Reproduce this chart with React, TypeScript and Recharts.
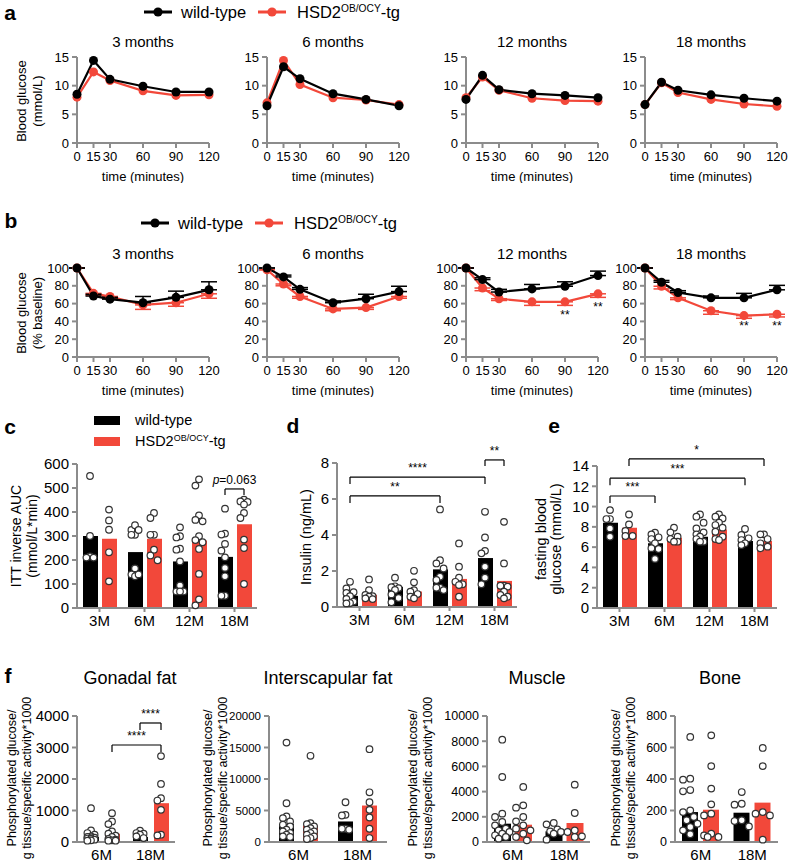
import React from 'react';
import {
  ComposedChart,
  LineChart,
  Line,
  Bar,
  Scatter,
  XAxis,
  YAxis,
  ErrorBar,
  ReferenceLine,
  ReferenceDot,
} from 'recharts';

const FONT = '"Liberation Sans", Arial, Helvetica, sans-serif';
const RED = '#f2483a';
const AXIS = '#8c8c8c';

// ---------- panel a / b : time courses ----------
const TIMES = [0, 15, 30, 60, 90, 120];
const AGE_TITLES = ['3 months', '6 months', '12 months', '18 months'];

const gttWildType = [
  [8.5, 14.4, 11.1, 9.9, 8.9, 8.9],
  [6.5, 13.3, 11.2, 8.6, 7.6, 6.5],
  [7.6, 11.8, 9.3, 8.6, 8.3, 7.9],
  [6.7, 10.6, 9.2, 8.4, 7.8, 7.3],
];
const gttTransgenic = [
  [8.0, 12.4, 10.9, 9.1, 8.3, 8.4],
  [7.0, 14.4, 10.2, 7.9, 7.5, 6.7],
  [7.9, 11.5, 9.2, 7.8, 7.4, 7.3],
  [6.7, 10.5, 8.8, 7.6, 6.8, 6.4],
];

const ittWildType = [
  [100, 68.5, 65, 61, 67, 75.5],
  [100, 90, 76, 61, 65.5, 73.5],
  [100, 87, 73, 76.5, 79.5, 91.5],
  [100, 84, 72.5, 66.5, 66.5, 75.5],
];
const ittWildTypeErr = [
  [0, 2, 2, 7, 7, 9],
  [0, 2, 2, 2, 5, 6],
  [0, 2, 3, 5, 5, 5],
  [0, 2, 2, 2, 5, 5],
];
const ittTransgenic = [
  [100, 71.5, 68, 58.5, 61, 71],
  [98, 82, 68, 54, 55.5, 68],
  [100, 77.5, 65.5, 62, 62, 71],
  [100, 79.5, 66.5, 52, 46.5, 48],
];
const ittTransgenicErr = [
  [0, 2, 2, 5, 4, 5],
  [0, 2, 2, 2, 2, 2],
  [0, 3, 2, 4, 4, 4],
  [0, 3, 2, 4, 3, 3],
];
// significance marks in b: [panel index, time, y position, text]
const ittStars: [number, number, number, string][] = [
  [2, 90, 47, '**'],
  [2, 120, 56, '**'],
  [3, 90, 35, '**'],
  [3, 120, 35, '**'],
];

// ---------- panel c ----------
const AGE_CATS = ['3M', '6M', '12M', '18M'];
const aucWtBar = [300, 233, 194, 213];
const aucTgBar = [289, 289, 281, 349];
const aucWtDots = [
  [550, 300, 215, 210, 210],
  [305, 325, 345, 325, 305, 165, 140, 132, 140],
  [336, 299, 294, 247, 243, 194, 94, 69, 69, 69],
  [414, 310, 306, 267, 239, 211, 167, 132, 51, 51],
];
const aucTgDots = [
  [410, 365, 326, 232, 111],
  [396, 375, 305, 305, 243, 219, 199],
  [536, 510, 386, 367, 361, 299, 283, 274, 246, 142, 36, 11],
  [451, 444, 442, 431, 396, 375, 285, 250, 100],
];

// ---------- panel d ----------
const insWtBar = [0.62, 1.12, 2.09, 2.72];
const insTgBar = [0.68, 0.86, 1.56, 1.45];
const insWtDots = [
  [1.4, 1.03, 0.82, 0.78, 0.6, 0.45, 0.3, 0.22, 0.2],
  [1.63, 1.15, 1.1, 1.05, 0.95, 0.7, 0.5, 0.26],
  [5.42, 2.6, 2.42, 2.14, 1.68, 1.5, 1.07, 1.07, 0.94],
  [5.29, 3.86, 3.12, 2.98, 2.24, 1.63, 1.26],
];
const insTgDots = [
  [1.53, 0.94, 0.67, 0.6, 0.57, 0.48, 0.44],
  [2.01, 1.37, 0.94, 0.85, 0.72, 0.57, 0.48],
  [3.53, 2.24, 1.63, 1.4, 1.26, 1.22, 0.57],
  [4.73, 2.42, 1.18, 1.18, 1.13, 0.85, 0.67, 0.57, 0.48],
];

// ---------- panel e ----------
const fbgWtBar = [8.4, 6.38, 7.03, 6.61];
const fbgTgBar = [7.92, 6.93, 7.75, 6.61];
const fbgWtDots = [
  [9.65, 8.77, 8.77, 7.85, 7.03],
  [7.43, 7.26, 6.97, 6.8, 6.38, 5.9, 5.82, 4.84],
  [9.22, 9.0, 8.41, 7.85, 7.46, 7.26, 7.03, 6.8, 6.54, 6.54],
  [7.79, 7.2, 6.87, 6.7, 6.38, 6.2],
];
const fbgTgDots = [
  [9.22, 8.24, 7.59, 7.1, 7.1],
  [7.92, 7.46, 7.03, 6.8, 6.54, 6.54],
  [9.22, 9.0, 8.83, 8.41, 8.18, 7.92, 7.52, 7.03, 6.8, 6.7],
  [7.26, 7.26, 6.8, 6.38, 6.05, 5.89],
];

// ---------- panel f ----------
const TISSUE_CATS = ['6M', '18M'];
const gonWtBar = [158, 158];
const gonTgBar = [263, 1232];
const gonWtDots = [
  [1074, 368, 284, 232, 179, 158, 140, 126, 110, 95, 74, 53, 42],
  [358, 284, 263, 232, 179, 126],
];
const gonTgDots = [
  [916, 653, 568, 337, 263, 200, 158, 95, 74, 53, 42, 42],
  [2727, 1843, 1390, 1316, 1021, 232, 210],
];
const intWtBar = [2840, 3260];
const intTgBar = [2630, 5790];
const intWtDots = [
  [15780, 6150, 4050, 3790, 3260, 2735, 2470, 1950, 1680, 1420, 1160, 895, 790],
  [6310, 4310, 4210, 2100, 2100, 1950],
];
const intTgDots = [
  [13680, 3000, 2840, 2470, 2210, 1950, 1680, 1420, 1160, 895, 630, 470],
  [14730, 7890, 6310, 5100, 3890, 2100, 630],
];
const musWtBar = [1455, 846];
const musTgBar = [1375, 1508];
const musWtDots = [
  [8120, 5160, 2250, 1985, 1590, 1320, 1060, 925, 795, 660, 530, 400, 265],
  [1510, 1400, 1005, 846, 795, 660, 185],
];
const musTgDots = [
  [4370, 2910, 2725, 1985, 1640, 1320, 1060, 925, 660, 400, 130],
  [4550, 2300, 925, 795, 450, 400],
];
const bonWtBar = [190, 186];
const bonTgBar = [205, 250];
const bonWtDots = [
  [667, 402, 396, 330, 322, 201, 190, 159, 138, 116, 95, 74, 49],
  [317, 243, 237, 138, 133, 99],
];
const bonTgDots = [
  [677, 482, 339, 239, 180, 169, 53, 42, 32, 32],
  [597, 482, 190, 180, 169, 15],
];

type Bracket = { a: [number, number]; b: [number, number]; y: number; drop: number; text: string; italicP?: boolean };

// ---------- helpers ----------
// horizontal spread of overlapping dots inside a bar (layout only)
function swarm(vals: number[], yMax: number, h: number, r: number, maxHalf: number): number[] {
  const pts: { x: number; y: number }[] = [];
  const out = vals.map(() => 0);
  const idx = vals.map((_, i) => i).sort((p, q) => vals[q] - vals[p]);
  const d = 2 * r + 0.6;
  const step = d / 2;
  const cands: number[] = [0];
  for (let k = 1; k * step <= maxHalf + 0.01; k++) {
    cands.push(-k * step, k * step);
  }
  for (const i of idx) {
    const y = (vals[i] / yMax) * h;
    let best = 0;
    let bestScore = -1;
    for (const c of cands) {
      const m = pts.reduce((acc, p) => Math.min(acc, Math.hypot(p.x - c, p.y - y)), 1e9);
      if (m >= d) {
        best = c;
        bestScore = 1e9;
        break;
      }
      if (m > bestScore + 0.5) {
        bestScore = m;
        best = c;
      }
    }
    pts.push({ x: best, y });
    out[i] = best;
  }
  return out;
}

const Centered = ({ x, y, size, children, style }: any) => (
  <div
    style={{
      position: 'absolute',
      left: x,
      top: y,
      transform: 'translate(-50%,-50%)',
      whiteSpace: 'nowrap',
      fontSize: size,
      lineHeight: 1,
      ...style,
    }}
  >
    {children}
  </div>
);

const VLabel = ({ x, y, lines, size, lh }: any) => (
  <div
    style={{
      position: 'absolute',
      left: x,
      top: y,
      transform: 'translate(-50%,-50%) rotate(-90deg)',
      whiteSpace: 'nowrap',
      textAlign: 'center',
      fontSize: size,
      lineHeight: `${lh}px`,
    }}
  >
    {lines.map((l: string, i: number) => (
      <div key={i}>{l}</div>
    ))}
  </div>
);

const TgName = () => (
  <span>
    HSD2<sup style={{ fontSize: '0.62em', verticalAlign: '0.55em', lineHeight: 0 }}>OB/OCY</sup>-tg
  </span>
);

const LineLegend = ({ x, y, size }: any) => (
  <>
    <svg style={{ position: 'absolute', left: x, top: y - 6 }} width={30} height={12}>
      <line x1={1} y1={6} x2={29} y2={6} stroke="#000" strokeWidth={3} />
      <circle cx={15} cy={6} r={4.6} fill="#000" />
    </svg>
    <Centered x={x + 38} y={y} size={size} style={{ transform: 'translate(0,-50%)' }}>
      wild-type
    </Centered>
    <svg style={{ position: 'absolute', left: x + 114, top: y - 6 }} width={30} height={12}>
      <line x1={1} y1={6} x2={29} y2={6} stroke={RED} strokeWidth={3} />
      <circle cx={15} cy={6} r={4.6} fill={RED} />
    </svg>
    <Centered x={x + 154} y={y} size={size} style={{ transform: 'translate(0,-50%)' }}>
      <TgName />
    </Centered>
  </>
);

const starShape = (text: string, size = 12) => (p: any) => (
  <text x={p.cx} y={p.cy} textAnchor="middle" dominantBaseline="central" fontSize={size} fill="#000" stroke="none">
    {text}
  </text>
);

function TimeChart({ x0, y0, w, h, yMax, yTicks, wt, tg, wtErr, tgErr, stars, title, titleY }: any) {
  const yW = 40;
  const mTop = 8;
  const mRight = 14;
  const xH = 40;
  const rows = TIMES.map((t, i) => ({
    t,
    wt: wt[i],
    tg: tg[i],
    we: [0, wtErr ? wtErr[i] : 0],
    te: [tgErr ? tgErr[i] : 0, 0],
  }));
  return (
    <>
      <Centered x={x0 + w / 2} y={titleY} size={15}>
        {title}
      </Centered>
      <div style={{ position: 'absolute', left: x0 - yW, top: y0 - mTop }}>
        <LineChart
          width={yW + w + mRight}
          height={mTop + h + xH}
          data={rows}
          margin={{ top: mTop, right: mRight, bottom: 0, left: 0 }}
        >
          <XAxis
            dataKey="t"
            type="number"
            domain={[0, 120]}
            ticks={TIMES}
            interval={0}
            height={xH}
            axisLine={{ stroke: AXIS, strokeWidth: 2 }}
            tickLine={{ stroke: AXIS, strokeWidth: 2 }}
            tickSize={5}
            tickMargin={4}
            tick={{ fontSize: 13, fill: '#000' }}
            label={{
              value: 'time (minutes)',
              position: 'insideBottom',
              offset: 2,
              fontSize: 13,
              fill: '#000',
              stroke: 'none',
            }}
          />
          <YAxis
            width={yW}
            domain={[0, yMax]}
            ticks={yTicks}
            interval={0}
            axisLine={{ stroke: AXIS, strokeWidth: 2 }}
            tickLine={{ stroke: AXIS, strokeWidth: 2 }}
            tickSize={5}
            tickMargin={3}
            tick={{ fontSize: 13, fill: '#000' }}
          />
          <Line
            dataKey="tg"
            stroke={RED}
            strokeWidth={2.2}
            dot={{ r: 4.5, fill: RED, stroke: RED, strokeWidth: 0 }}
            activeDot={false}
            isAnimationActive={false}
          >
            {tgErr && <ErrorBar dataKey="te" width={8} strokeWidth={1.5} stroke={RED} direction="y" />}
          </Line>
          <Line
            dataKey="wt"
            stroke="#000"
            strokeWidth={2.2}
            dot={{ r: 4.5, fill: '#000', stroke: '#000', strokeWidth: 0 }}
            activeDot={false}
            isAnimationActive={false}
          >
            {wtErr && <ErrorBar dataKey="we" width={8} strokeWidth={1.5} stroke="#000" direction="y" />}
          </Line>
          {(stars || []).map((s: any, i: number) => (
            <ReferenceDot
              key={i}
              x={s[1]}
              y={s[2]}
              r={1}
              ifOverflow="visible"
              shape={starShape(s[3], 12)}
            />
          ))}
        </LineChart>
      </div>
    </>
  );
}

const DotShape = (p: any) => (
  <circle cx={p.cx} cy={p.cy} r={3.3} fill="#fff" stroke="#333" strokeWidth={1.2} />
);

function DotBarChart({
  x0,
  y0,
  w,
  h,
  yMax,
  yTicks,
  cats,
  wtBar,
  tgBar,
  wtDots,
  tgDots,
  barSize,
  barGap,
  tickFont,
  catFont,
  catTicks,
  brackets,
}: any) {
  const yW = 55;
  const mTop = 40;
  const mRight = 6;
  const xH = 24;
  const n = cats.length;
  const unitPx = w / n;
  const half = (barSize + barGap) / 2;
  const R = 3.3;
  const rows = cats.map((c: string, i: number) => ({ c, wt: wtBar[i], tg: tgBar[i] }));
  const dots: { x: number; v: number }[] = [];
  [wtDots, tgDots].forEach((grp: number[][], g: number) =>
    grp.forEach((vals, i) => {
      const jit = swarm(vals, yMax, h, R, barSize / 2 - 0.5);
      vals.forEach((v, k) => dots.push({ x: i + 0.5 + ((g ? half : -half) + jit[k]) / unitPx, v }));
    })
  );
  const bx = (cat: number, grp: number) => cat + 0.5 + (grp ? half : -half) / unitPx;
  const pxV = yMax / h;
  return (
    <div style={{ position: 'absolute', left: x0 - yW, top: y0 - mTop }}>
      <ComposedChart
        width={yW + w + mRight}
        height={mTop + h + xH}
        data={rows}
        barGap={barGap}
        margin={{ top: mTop, right: mRight, bottom: 0, left: 0 }}
      >
        <XAxis
          xAxisId="c"
          dataKey="c"
          type="category"
          height={xH}
          interval={0}
          axisLine={{ stroke: AXIS, strokeWidth: 2 }}
          tickLine={catTicks ? { stroke: AXIS, strokeWidth: 2 } : false}
          tickSize={4}
          tickMargin={3}
          tick={{ fontSize: catFont, fill: '#000' }}
        />
        <XAxis xAxisId="n" dataKey="x" type="number" domain={[0, n]} hide />
        <YAxis
          yAxisId="c"
          width={yW}
          domain={[0, yMax]}
          ticks={yTicks}
          interval={0}
          axisLine={{ stroke: AXIS, strokeWidth: 2 }}
          tickLine={{ stroke: AXIS, strokeWidth: 2 }}
          tickSize={5}
          tickMargin={3}
          tick={{ fontSize: tickFont, fill: '#000' }}
        />
        <YAxis yAxisId="n" dataKey="v" type="number" domain={[0, yMax]} hide />
        <Bar xAxisId="c" yAxisId="c" dataKey="wt" fill="#000" barSize={barSize} isAnimationActive={false} />
        <Bar xAxisId="c" yAxisId="c" dataKey="tg" fill={RED} barSize={barSize} isAnimationActive={false} />
        <Scatter xAxisId="n" yAxisId="n" data={dots} dataKey="v" shape={DotShape} isAnimationActive={false} />
        {(brackets || []).map((b: Bracket, i: number) => {
          const xa = bx(b.a[0], b.a[1]);
          const xb = bx(b.b[0], b.b[1]);
          const yd = b.y - b.drop * pxV;
          const segs = [
            [{ x: xa, y: yd }, { x: xa, y: b.y }],
            [{ x: xa, y: b.y }, { x: xb, y: b.y }],
            [{ x: xb, y: b.y }, { x: xb, y: yd }],
          ];
          return (
            <React.Fragment key={i}>
              {segs.map((s, j) => (
                <ReferenceLine
                  key={j}
                  xAxisId="n"
                  yAxisId="n"
                  segment={s as any}
                  stroke="#000"
                  strokeWidth={1.2}
                  ifOverflow="visible"
                />
              ))}
              <ReferenceDot
                xAxisId="n"
                yAxisId="n"
                x={(xa + xb) / 2}
                y={b.y + 9 * pxV}
                r={1}
                ifOverflow="visible"
                shape={(p: any) => (
                  <text
                    x={p.cx}
                    y={p.cy}
                    textAnchor="middle"
                    dominantBaseline="central"
                    fontSize={12}
                    fill="#000"
                    stroke="none"
                  >
                    {b.italicP ? (
                      <>
                        <tspan fontStyle="italic">p</tspan>
                        {b.text}
                      </>
                    ) : (
                      b.text
                    )}
                  </text>
                )}
              />
            </React.Fragment>
          );
        })}
      </ComposedChart>
    </div>
  );
}

const LINE_X = [77, 267, 466, 645];

export default function App() {
  return (
    <div
      style={{
        position: 'absolute',
        left: 0,
        top: 0,
        width: 789,
        height: 864,
        overflow: 'hidden',
        background: '#fff',
        fontFamily: FONT,
        color: '#000',
      }}
    >
      {/* ---------- a ---------- */}
      <Centered x={10} y={12} size={21} style={{ fontWeight: 'bold' }}>
        a
      </Centered>
      <LineLegend x={143} y={12} size={16.5} />
      <VLabel x={30} y={101} lines={['Blood glucose', '(mmol/L)']} size={13} lh={16} />
      {AGE_TITLES.map((t, i) => (
        <TimeChart
          key={'a' + i}
          x0={LINE_X[i]}
          y0={57}
          w={132}
          h={86}
          yMax={15}
          yTicks={[0, 5, 10, 15]}
          wt={gttWildType[i]}
          tg={gttTransgenic[i]}
          title={t}
          titleY={41}
        />
      ))}

      {/* ---------- b ---------- */}
      <Centered x={11} y={220} size={21} style={{ fontWeight: 'bold' }}>
        b
      </Centered>
      <LineLegend x={140} y={223} size={16.5} />
      <VLabel x={30} y={313} lines={['Blood glucose', '(% baseline)']} size={13} lh={16} />
      {AGE_TITLES.map((t, i) => (
        <TimeChart
          key={'b' + i}
          x0={LINE_X[i]}
          y0={268}
          w={132}
          h={89}
          yMax={100}
          yTicks={[0, 20, 40, 60, 80, 100]}
          wt={ittWildType[i]}
          tg={ittTransgenic[i]}
          wtErr={ittWildTypeErr[i]}
          tgErr={ittTransgenicErr[i]}
          stars={ittStars.filter((s) => s[0] === i)}
          title={t}
          titleY={253}
        />
      ))}

      {/* ---------- c ---------- */}
      <Centered x={10} y={426} size={21} style={{ fontWeight: 'bold' }}>
        c
      </Centered>
      <div style={{ position: 'absolute', left: 94, top: 416, width: 26, height: 9, background: '#000' }} />
      <Centered x={135} y={420} size={14.5} style={{ transform: 'translate(0,-50%)' }}>
        wild-type
      </Centered>
      <div style={{ position: 'absolute', left: 94, top: 437, width: 26, height: 9, background: RED }} />
      <Centered x={135} y={441} size={14.5} style={{ transform: 'translate(0,-50%)' }}>
        <TgName />
      </Centered>
      <VLabel x={24} y={536} lines={['ITT inverse AUC', '(mmol/L*min)']} size={14} lh={16} />
      <DotBarChart
        x0={77}
        y0={464}
        w={180}
        h={144}
        yMax={600}
        yTicks={[0, 100, 200, 300, 400, 500, 600]}
        cats={AGE_CATS}
        wtBar={aucWtBar}
        tgBar={aucTgBar}
        wtDots={aucWtDots}
        tgDots={aucTgDots}
        barSize={15}
        barGap={4}
        tickFont={15}
        catFont={15}
        catTicks
        brackets={[{ a: [3, 0], b: [3, 1], y: 496, drop: 6, text: '=0.063', italicP: true }]}
      />

      {/* ---------- d ---------- */}
      <Centered x={293} y={425} size={21} style={{ fontWeight: 'bold' }}>
        d
      </Centered>
      <VLabel x={306} y={537} lines={['Insulin (ng/mL)']} size={14.5} lh={16} />
      <DotBarChart
        x0={337}
        y0={463}
        w={180}
        h={144}
        yMax={8}
        yTicks={[0, 2, 4, 6, 8]}
        cats={AGE_CATS}
        wtBar={insWtBar}
        tgBar={insTgBar}
        wtDots={insWtDots}
        tgDots={insTgDots}
        barSize={15}
        barGap={4}
        tickFont={15}
        catFont={15}
        catTicks
        brackets={[
          { a: [0, 0], b: [2, 0], y: 6.17, drop: 7, text: '**' },
          { a: [0, 0], b: [3, 0], y: 7.22, drop: 7, text: '****' },
          { a: [3, 0], b: [3, 1], y: 8.17, drop: 6, text: '**' },
        ]}
      />

      {/* ---------- e ---------- */}
      <Centered x={554} y={425} size={21} style={{ fontWeight: 'bold' }}>
        e
      </Centered>
      <VLabel x={549} y={539} lines={['fasting blood', 'glucose (mmol/L)']} size={14.5} lh={15} />
      <DotBarChart
        x0={597}
        y0={466}
        w={180}
        h={142}
        yMax={14}
        yTicks={[0, 2, 4, 6, 8, 10, 12, 14]}
        cats={AGE_CATS}
        wtBar={fbgWtBar}
        tgBar={fbgTgBar}
        wtDots={fbgWtDots}
        tgDots={fbgTgDots}
        barSize={15}
        barGap={4}
        tickFont={15}
        catFont={15}
        catTicks
        brackets={[
          { a: [0, 0], b: [1, 0], y: 11.04, drop: 7, text: '***' },
          { a: [0, 0], b: [3, 0], y: 12.8, drop: 7, text: '***' },
          { a: [0, 1], b: [3, 1], y: 14.7, drop: 7, text: '*' },
        ]}
      />

      {/* ---------- f ---------- */}
      <Centered x={8} y={675} size={21} style={{ fontWeight: 'bold' }}>
        f
      </Centered>
      {[
        { t: 'Gonadal fat', cx: 130, lx: 20 },
        { t: 'Interscapular fat', cx: 328, lx: 216 },
        { t: 'Muscle', cx: 537, lx: 421 },
        { t: 'Bone', cx: 720, lx: 624 },
      ].map((f) => (
        <React.Fragment key={f.t}>
          <Centered x={f.cx} y={678} size={18}>
            {f.t}
          </Centered>
          <VLabel
            x={f.lx}
            y={778}
            lines={['Phosphorylated glucose/', 'g tissue/specific activity*1000']}
            size={12.5}
            lh={15}
          />
        </React.Fragment>
      ))}
      <DotBarChart
        x0={77}
        y0={716}
        w={98}
        h={126}
        yMax={4000}
        yTicks={[0, 1000, 2000, 3000, 4000]}
        cats={TISSUE_CATS}
        wtBar={gonWtBar}
        tgBar={gonTgBar}
        wtDots={gonWtDots}
        tgDots={gonTgDots}
        barSize={15}
        barGap={6}
        tickFont={15}
        catFont={15}
        catTicks={false}
        brackets={[
          { a: [1, 0], b: [1, 1], y: 3778, drop: 7, text: '****' },
          { a: [0, 1], b: [1, 1], y: 3080, drop: 7, text: '****' },
        ]}
      />
      <DotBarChart
        x0={269}
        y0={716}
        w={118}
        h={126}
        yMax={20000}
        yTicks={[0, 5000, 10000, 15000, 20000]}
        cats={TISSUE_CATS}
        wtBar={intWtBar}
        tgBar={intTgBar}
        wtDots={intWtDots}
        tgDots={intTgDots}
        barSize={15}
        barGap={9}
        tickFont={11.5}
        catFont={15}
        catTicks={false}
      />
      <DotBarChart
        x0={487}
        y0={716}
        w={103}
        h={126}
        yMax={10000}
        yTicks={[0, 2000, 4000, 6000, 8000, 10000]}
        cats={TISSUE_CATS}
        wtBar={musWtBar}
        tgBar={musTgBar}
        wtDots={musWtDots}
        tgDots={musTgDots}
        barSize={17}
        barGap={4}
        tickFont={12.5}
        catFont={15}
        catTicks={false}
      />
      <DotBarChart
        x0={675}
        y0={716}
        w={103}
        h={126}
        yMax={800}
        yTicks={[0, 200, 400, 600, 800]}
        cats={TISSUE_CATS}
        wtBar={bonWtBar}
        tgBar={bonTgBar}
        wtDots={bonWtDots}
        tgDots={bonTgDots}
        barSize={16}
        barGap={5}
        tickFont={12.5}
        catFont={15}
        catTicks={false}
      />
    </div>
  );
}
